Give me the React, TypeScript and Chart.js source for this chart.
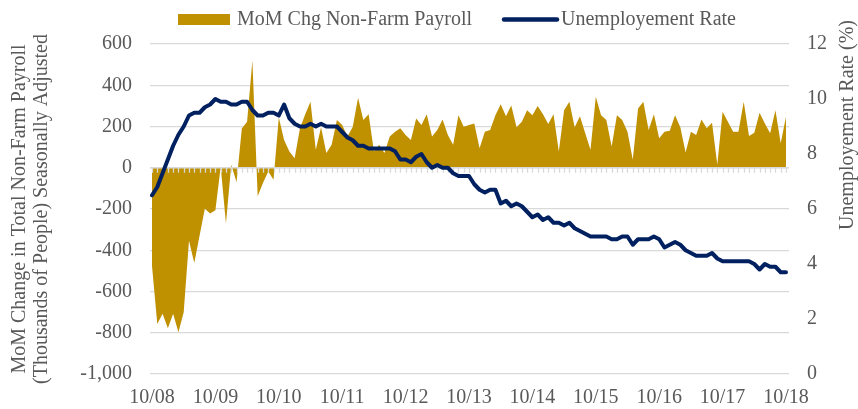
import React, { useEffect, useRef } from 'react';
import { Chart, registerables } from 'chart.js';

Chart.register(...registerables);

const FONT = "'Liberation Serif', 'Times New Roman', serif";
const TEXT = '#595959';
const GOLD = '#BF9000';
const NAVY = '#002060';
const GRID = '#D9D9D9';

const seriesLabels = ['MoM Chg Non-Farm Payroll', 'Unemployement Rate'];
const leftTitle = ['MoM Change in Total Non-Farm Payroll', '(Thousands of People) Seasonally Adjusted'];
const rightTitle = 'Unemployement Rate (%)';

// one tick label every 12 months, starting Oct 2008
const xTickLabels = ['10/08', '10/09', '10/10', '10/11', '10/12', '10/13', '10/14', '10/15', '10/16', '10/17', '10/18'];

// monthly change in non-farm payroll (thousands), Oct 2008 .. Oct 2018
const payroll = [
  -476, -757, -708, -778, -708, -797, -700, -354, -462, -330, -199, -222,
  -206, 5, -270, 15, -70, 190, 223, 520, -138, -74, -18, -58,
  244, 135, 79, 46, 190, 260, 320, 87, 196, 71, 111, 231,
  207, 151, 199, 340, 231, 260, 80, 111, 71, 151, 175, 191,
  159, 135, 239, 207, 260, 151, 183, 234, 159, 111, 255, 199,
  207, 215, 95, 175, 183, 255, 308, 250, 302, 196, 223, 279,
  255, 300, 260, 212, 260, 79, 279, 320, 196, 250, 167, 87,
  344, 255, 231, 103, 255, 231, 175, 39, 287, 320, 183, 260,
  143, 175, 180, 255, 196, 74, 175, 159, 234, 191, 218, 14,
  271, 223, 175, 175, 320, 154, 170, 267, 215, 167, 279, 119,
  247,
];

// unemployment rate (%), Oct 2008 .. Oct 2018
const unemployment = [
  6.5, 6.8, 7.3, 7.8, 8.3, 8.7, 9.0, 9.4, 9.5, 9.5, 9.7, 9.8,
  10.0, 9.9, 9.9, 9.8, 9.8, 9.9, 9.9, 9.6, 9.4, 9.4, 9.5, 9.5,
  9.4, 9.8, 9.3, 9.1, 9.0, 9.0, 9.1, 9.0, 9.1, 9.0, 9.0, 9.0,
  8.8, 8.6, 8.5, 8.3, 8.3, 8.2, 8.2, 8.2, 8.2, 8.2, 8.1, 7.8,
  7.8, 7.7, 7.9, 8.0, 7.7, 7.5, 7.6, 7.5, 7.5, 7.3, 7.2, 7.2,
  7.2, 6.9, 6.7, 6.6, 6.7, 6.7, 6.2, 6.3, 6.1, 6.2, 6.1, 5.9,
  5.7, 5.8, 5.6, 5.7, 5.5, 5.5, 5.4, 5.5, 5.3, 5.2, 5.1, 5.0,
  5.0, 5.0, 5.0, 4.9, 4.9, 5.0, 5.0, 4.7, 4.9, 4.9, 4.9, 5.0,
  4.9, 4.6, 4.7, 4.8, 4.7, 4.5, 4.4, 4.3, 4.3, 4.3, 4.4, 4.2,
  4.1, 4.1, 4.1, 4.1, 4.1, 4.1, 4.0, 3.8, 4.0, 3.9, 3.9, 3.7,
  3.7,
];

const leftRange = { min: -1000, max: 600, step: 200 };
const rightRange = { min: 0, max: 12, step: 2 };

const zeroAxisPlugin = {
  id: 'zeroAxis',
  afterDatasetDraw(chart: any, args: any) {
    if (args.index !== 0) return;
    const { ctx, chartArea } = chart;
    const xs = chart.scales.x;
    const y0 = chart.scales.y.getPixelForValue(0);
    ctx.save();
    ctx.strokeStyle = GRID;
    ctx.lineWidth = 1.5;
    ctx.beginPath();
    ctx.moveTo(chartArea.left, y0);
    ctx.lineTo(chartArea.right, y0);
    ctx.stroke();
    ctx.lineWidth = 1.3;
    ctx.beginPath();
    for (let i = 0; i < payroll.length; i++) {
      const x = Math.round(xs.getPixelForValue(i)) + 0.5;
      ctx.moveTo(x, y0);
      ctx.lineTo(x, y0 + 5);
    }
    ctx.stroke();
    ctx.restore();
  },
};

const decorPlugin = {
  id: 'decor',
  afterDraw(chart: any) {
    const { ctx } = chart;
    ctx.save();
    ctx.font = `20px ${FONT}`;
    ctx.textBaseline = 'alphabetic';
    const base = 25;
    const mid = 19.5;
    let x = 178;
    ctx.fillStyle = GOLD;
    ctx.fillRect(x, mid - 5.5, 52, 11);
    x += 52 + 7;
    ctx.fillStyle = TEXT;
    ctx.fillText(chart.data.datasets[0].label, x, base);
    x += ctx.measureText(chart.data.datasets[0].label).width + 30;
    ctx.strokeStyle = NAVY;
    ctx.lineWidth = 4.5;
    ctx.lineCap = 'round';
    ctx.beginPath();
    ctx.moveTo(x + 2, mid);
    ctx.lineTo(x + 55, mid);
    ctx.stroke();
    x += 59;
    ctx.fillText(chart.data.datasets[1].label, x, base);

    // right axis title, reading bottom-to-top
    ctx.translate(848, 125);
    ctx.rotate(-Math.PI / 2);
    ctx.textAlign = 'center';
    ctx.textBaseline = 'middle';
    ctx.fillText(rightTitle, 0, 0);
    ctx.restore();
  },
};

export default function App() {
  const ref = useRef<HTMLCanvasElement | null>(null);

  useEffect(() => {
    if (!ref.current) return;
    const tickFont = { family: FONT, size: 20 };
    const chart = new Chart(ref.current, {
      type: 'line',
      data: {
        datasets: [
          {
            label: seriesLabels[0],
            data: payroll.map((v, i) => ({ x: i, y: v })),
            yAxisID: 'y',
            fill: 'origin',
            backgroundColor: GOLD,
            borderColor: GOLD,
            borderWidth: 0,
            pointRadius: 0,
            tension: 0,
            order: 1,
          },
          {
            label: seriesLabels[1],
            data: unemployment.map((v, i) => ({ x: i, y: v })),
            yAxisID: 'y1',
            fill: false,
            borderColor: NAVY,
            backgroundColor: NAVY,
            borderWidth: 4,
            borderJoinStyle: 'round',
            borderCapStyle: 'round',
            pointRadius: 0,
            tension: 0,
            order: 0,
          },
        ],
      },
      options: {
        animation: false,
        responsive: false,
        devicePixelRatio: 1,
        layout: { padding: { top: 44, left: 0, right: 0, bottom: 0 } },
        plugins: {
          legend: { display: false },
          tooltip: { enabled: false },
        },
        scales: {
          x: {
            type: 'linear',
            min: -0.38,
            max: 120.57,
            afterBuildTicks: (scale: any) => {
              scale.ticks = xTickLabels.map((_, i) => ({ value: i * 12 }));
            },
            afterFit: (scale: any) => {
              scale.height = 35;
            },
            ticks: {
              autoSkip: false,
              maxRotation: 0,
              font: tickFont,
              color: TEXT,
              padding: 12,
              callback: (v: any) => xTickLabels[Math.round(Number(v) / 12)] ?? '',
            },
            grid: { display: false, drawTicks: false },
            border: { display: false },
          },
          y: {
            type: 'linear',
            position: 'left',
            min: leftRange.min,
            max: leftRange.max,
            afterFit: (scale: any) => {
              scale.width = 150;
            },
            ticks: {
              stepSize: leftRange.step,
              font: tickFont,
              color: TEXT,
              padding: 18,
              callback: (v: any) => Number(v).toLocaleString('en-US'),
            },
            grid: { color: GRID, lineWidth: 1.2, drawTicks: false },
            border: { display: false },
            title: {
              display: true,
              text: leftTitle,
              color: TEXT,
              font: { family: FONT, size: 20, lineHeight: 1.1 },
              padding: { top: 9, bottom: 0 },
            },
          },
          y1: {
            type: 'linear',
            position: 'right',
            min: rightRange.min,
            max: rightRange.max,
            afterFit: (scale: any) => {
              scale.width = 69;
            },
            ticks: {
              stepSize: rightRange.step,
              font: tickFont,
              color: TEXT,
              padding: 18,
            },
            grid: { drawOnChartArea: false, drawTicks: false },
            border: { display: false },
          },
        },
      },
      plugins: [zeroAxisPlugin, decorPlugin],
    } as any);
    return () => chart.destroy();
  }, []);

  return (
    <div style={{ position: 'absolute', left: 0, top: 0, width: 858, height: 409, background: '#fff' }}>
      <canvas ref={ref} width={858} height={409} style={{ display: 'block' }} />
    </div>
  );
}
